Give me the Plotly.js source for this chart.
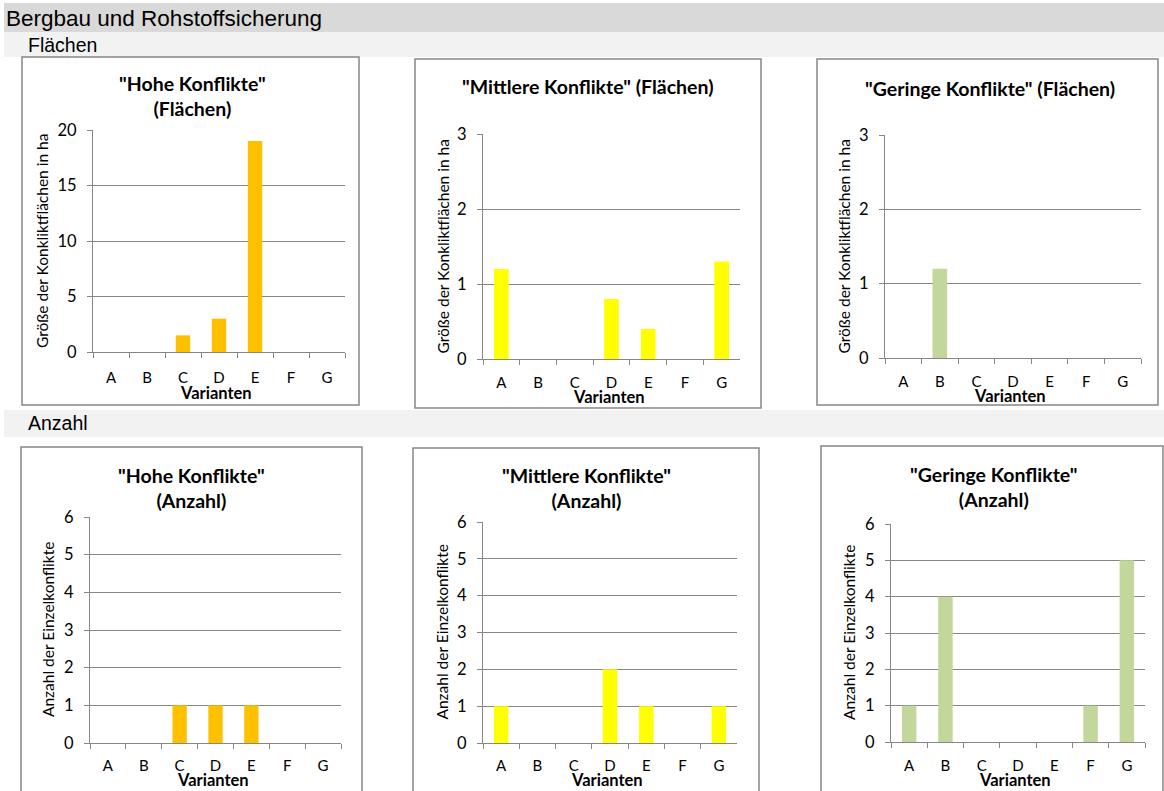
<!DOCTYPE html>
<html>
<head>
<meta charset="utf-8">
<script src="https://cdn.plot.ly/plotly-3.0.1.min.js"></script>
<style>html,body{margin:0;padding:0;background:#fff;}#chart{width:1164px;height:791px;}</style>
</head>
<body>
<div id="chart"></div>
<script>
// ---- data ----
const categories = ['A','B','C','D','E','F','G'];
const hoheFlaechen     = [0, 0, 1.5, 3, 19, 0, 0];
const mittlereFlaechen = [1.2, 0, 0, 0.8, 0.4, 0, 1.3];
const geringeFlaechen  = [0, 1.2, 0, 0, 0, 0, 0];
const hoheAnzahl       = [0, 0, 1, 1, 1, 0, 0];
const mittlereAnzahl   = [1, 0, 0, 2, 1, 0, 1];
const geringeAnzahl    = [1, 4, 0, 0, 0, 1, 5];
const chartTitles = [
  '"Hohe Konflikte"<br>(Flächen)',
  '"Mittlere Konflikte" (Flächen)',
  '"Geringe Konflikte" (Flächen)',
  '"Hohe Konflikte"<br>(Anzahl)',
  '"Mittlere Konflikte"<br>(Anzahl)',
  '"Geringe Konflikte"<br>(Anzahl)'
];
const yTitleFlaechen = 'Größe der Konkliktflächen in ha';
const yTitleAnzahl = 'Anzahl der Einzelkonflikte';
const xTitle = 'Varianten';
const mainTitle = 'Bergbau und Rohstoffsicherung';
const section1 = 'Flächen';
const section2 = 'Anzahl';

// ---- layout helpers ----
const W = 1164, H = 791;
const px = x => x / W;
const py = y => 1 - y / H;
const FONT = 'Lato, "Open Sans", sans-serif';
const HFONT = '"Liberation Sans", Arial, sans-serif';
const GRID = '#868686';
const colors = {hohe: '#FFC000', mittlere: '#FFFF00', geringe: '#C3D69B'};

const panels = [
  {vals: hoheFlaechen,     color: colors.hohe,     ymax: 20, dtick: 5, plot: [93, 345, 130, 352], box: [22, 359, 57, 405],  title: [192, 96.5], ytitle: yTitleFlaechen, ytx: 42,  catY: 377, xtY: 393},
  {vals: mittlereFlaechen, color: colors.mittlere, ymax: 3,  dtick: 1, plot: [483, 740, 134, 359], box: [415, 761, 59, 408], title: [588, 87],  ytitle: yTitleFlaechen, ytx: 442, catY: 382, xtY: 397},
  {vals: geringeFlaechen,  color: colors.geringe,  ymax: 3,  dtick: 1, plot: [885, 1141, 135, 358], box: [817, 1158, 59, 405], title: [990, 88], ytitle: yTitleFlaechen, ytx: 843, catY: 381, xtY: 396},
  {vals: hoheAnzahl,       color: colors.hohe,     ymax: 6,  dtick: 1, plot: [90, 341, 517, 743], box: [21, 362, 447, 800],  title: [191, 487.5], ytitle: yTitleAnzahl, ytx: 48,  catY: 765, xtY: 780},
  {vals: mittlereAnzahl,   color: colors.mittlere, ymax: 6,  dtick: 1, plot: [483, 737, 522, 743], box: [413, 759, 448, 800], title: [586, 488], ytitle: yTitleAnzahl, ytx: 441, catY: 765, xtY: 780},
  {vals: geringeAnzahl,    color: colors.geringe,  ymax: 6,  dtick: 1, plot: [891, 1145, 524, 742], box: [821, 1163, 446, 800], title: [994, 487], ytitle: yTitleAnzahl, ytx: 849, catY: 765, xtY: 780}
];

const data = [];
const layout = {
  width: W, height: H, autosize: false,
  margin: {l: 0, r: 0, t: 0, b: 0, pad: 0},
  paper_bgcolor: '#ffffff', plot_bgcolor: 'rgba(0,0,0,0)',
  showlegend: false, bargap: 0.6,
  font: {family: FONT, color: '#000'},
  shapes: [], annotations: []
};

// header bars
layout.shapes.push({type: 'rect', xref: 'paper', yref: 'paper', x0: px(4), x1: px(1164), y0: py(32), y1: py(3), fillcolor: '#d9d9d9', line: {width: 0}, layer: 'below'});
layout.shapes.push({type: 'rect', xref: 'paper', yref: 'paper', x0: px(4), x1: px(1164), y0: py(57), y1: py(32), fillcolor: '#f2f2f2', line: {width: 0}, layer: 'below'});
layout.shapes.push({type: 'rect', xref: 'paper', yref: 'paper', x0: px(4), x1: px(1164), y0: py(437), y1: py(410), fillcolor: '#f2f2f2', line: {width: 0}, layer: 'below'});
layout.annotations.push({xref: 'paper', yref: 'paper', x: px(4), y: py(18), xanchor: 'left', yanchor: 'middle', showarrow: false, text: mainTitle, font: {family: HFONT, size: 22.5, color: '#000'}});
layout.annotations.push({xref: 'paper', yref: 'paper', x: px(26), y: py(45), xanchor: 'left', yanchor: 'middle', showarrow: false, text: section1, font: {family: HFONT, size: 19.5, color: '#000'}});
layout.annotations.push({xref: 'paper', yref: 'paper', x: px(26), y: py(423), xanchor: 'left', yanchor: 'middle', showarrow: false, text: section2, font: {family: HFONT, size: 19.5, color: '#000'}});

panels.forEach((p, i) => {
  const n = i + 1;
  const xa = n === 1 ? 'xaxis' : 'xaxis' + n;
  const ya = n === 1 ? 'yaxis' : 'yaxis' + n;
  const xr = n === 1 ? 'x' : 'x' + n;
  const yr = n === 1 ? 'y' : 'y' + n;
  data.push({type: 'bar', x: categories, y: p.vals, xaxis: xr, yaxis: yr,
             marker: {color: p.color, line: {width: 0}}, hoverinfo: 'x+y'});
  layout[xa] = {
    domain: [px(p.plot[0]), px(p.plot[1])], anchor: yr,
    type: 'category', categoryorder: 'array', categoryarray: categories,
    range: [-0.5, 6.5], fixedrange: true,
    showline: true, linecolor: GRID, linewidth: 1,
    ticks: 'outside', tickson: 'boundaries', ticklen: 5, tickcolor: GRID, tickwidth: 1,
    showgrid: false, zeroline: false,
    tickfont: {family: FONT, size: 15, color: '#000'},
    ticklabelstandoff: p.catY - p.plot[3] - 13
  };
  layout[ya] = {
    domain: [py(p.plot[3]), py(p.plot[2])], anchor: xr,
    range: [0, p.ymax], dtick: p.dtick, tick0: 0, fixedrange: true,
    showline: true, linecolor: GRID, linewidth: 1,
    ticks: 'outside', ticklen: 5, tickcolor: GRID, tickwidth: 1,
    showgrid: true, gridcolor: GRID, gridwidth: 1, zeroline: false,
    tickfont: {family: FONT, size: 16.5, color: '#000'},
    ticklabelstandoff: 7
  };
  // box border
  layout.shapes.push({type: 'rect', xref: 'paper', yref: 'paper',
    x0: px(p.box[0]), x1: px(p.box[1]), y0: py(p.box[3]), y1: py(p.box[2]),
    fillcolor: '#ffffff', line: {color: GRID, width: 1.5}, layer: 'below'});
  // chart title
  layout.annotations.push({xref: 'paper', yref: 'paper', x: px(p.title[0]), y: py(p.title[1]),
    xanchor: 'center', yanchor: 'middle', showarrow: false, align: 'center',
    text: '<b>' + chartTitles[i].replace('<br>', '</b><br><b>') + '</b>',
    font: {family: FONT, size: 19.5, color: '#000'}});
  // y title
  layout.annotations.push({xref: 'paper', yref: 'paper', x: px(p.ytx), y: py((p.plot[2] + p.plot[3]) / 2),
    xanchor: 'center', yanchor: 'middle', showarrow: false, textangle: -90,
    text: p.ytitle, font: {family: FONT, size: 15.5, color: '#000'}});
  // x title
  layout.annotations.push({xref: 'paper', yref: 'paper', x: px((p.plot[0] + p.plot[1]) / 2 - 3), y: py(p.xtY),
    xanchor: 'center', yanchor: 'middle', showarrow: false,
    text: '<b>' + xTitle + '</b>', font: {family: FONT, size: 16.5, color: '#000'}});
});

Plotly.newPlot('chart', data, layout, {displayModeBar: false, staticPlot: true});
</script>
</body>
</html>
